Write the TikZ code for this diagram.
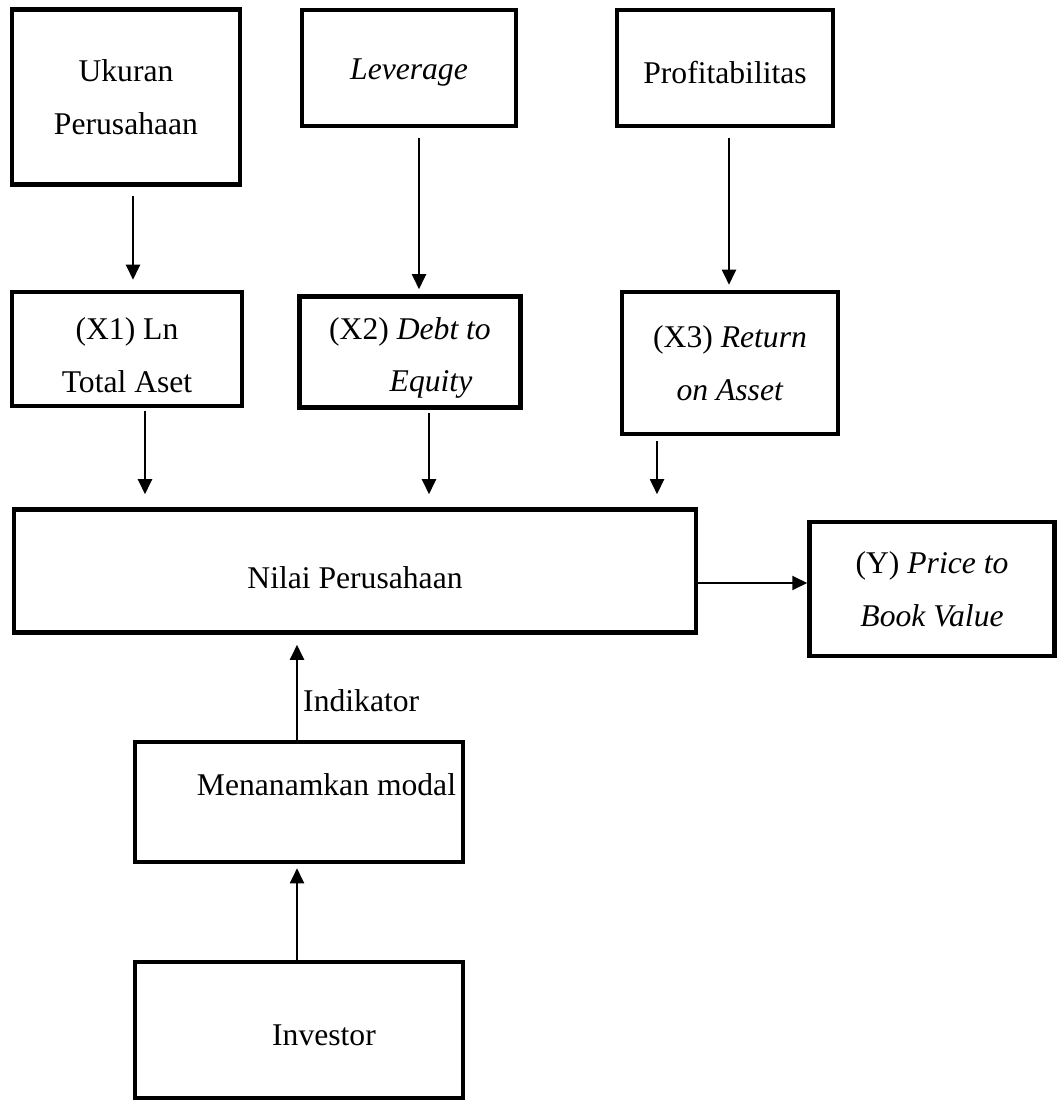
\documentclass[tikz,border=0pt]{standalone}
\usepackage{fontspec}
\setmainfont{Liberation Serif}
\usetikzlibrary{arrows.meta}

% move a line of text up or down without changing its box
\newcommand\lowtext[2]{\raisebox{-#1}[\height][\depth]{#2}}

\begin{document}
\begin{tikzpicture}[x=0.02cm, y=-0.02cm,
  box/.style={draw, line width=2.6pt, align=center, inner sep=0pt,
    font=\fontsize{18}{30}\selectfont},
  arr/.style={-{Triangle[length=0.3cm,width=0.28cm]}, line width=1.1pt}]

\useasboundingbox (0,0) rectangle (1057,1104);

% Top row
\node[box, minimum width=4.56cm, minimum height=3.5cm] (ukuran) at (126,97)
  {Ukuran\\Perusahaan};
\node[box, minimum width=4.28cm, minimum height=2.32cm] (lev) at (409,68)
  {\lowtext{0.1cm}{\textit{Leverage}}};
\node[box, minimum width=4.32cm, minimum height=2.32cm] (prof) at (725,68)
  {\lowtext{0.1cm}{Profitabilitas}};

% Indicators
\node[box, minimum width=4.6cm, minimum height=2.28cm] (x1) at (127,349)
  {\lowtext{0.12cm}{(X1) Ln}\\\lowtext{0.12cm}{Total Aset}};
\node[box, minimum width=4.42cm, minimum height=2.22cm] (x2) at (410,352)
  {\lowtext{0.12cm}{(X2) \textit{Debt to}}\\\hspace*{0.84cm}\lowtext{0.12cm}{\textit{Equity}}};
\node[box, minimum width=4.32cm, minimum height=2.84cm] (x3) at (730,363)
  {(X3) \textit{Return}\\\textit{on Asset}};

% Firm value
\node[box, minimum width=13.64cm, minimum height=2.46cm] (nilai) at (355,571)
  {\lowtext{0.14cm}{Nilai Perusahaan}};
\node[box, minimum width=4.9cm, minimum height=2.68cm] (pbv) at (932,589)
  {(Y) \textit{Price to}\\\textit{Book Value}};

% Bottom
\node[box, minimum width=6.56cm, minimum height=2.4cm] (modal) at (299,802)
  {\hspace*{1.1cm}\lowtext{-0.34cm}{Menanamkan modal}};
\node[box, minimum width=6.56cm, minimum height=2.72cm] (inv) at (299,1030)
  {\hspace*{1cm}\lowtext{0.1cm}{Investor}};

% Arrows down
\draw[arr, shorten <=0.18cm, shorten >=0.2cm] ([xshift=0.14cm]ukuran.south) -- ([xshift=0.14cm]ukuran.south |- x1.north);
\draw[arr, shorten <=0.2cm, shorten >=0.1cm] ([xshift=0.2cm]lev.south) -- ([xshift=0.2cm]lev.south |- x2.north);
\draw[arr, shorten <=0.2cm, shorten >=0.1cm] ([xshift=0.08cm]prof.south) -- ([xshift=0.08cm]prof.south |- x3.north);
\draw[arr, shorten <=0.06cm, shorten >=0.26cm] ([xshift=0.36cm]x1.south) -- ([xshift=0.36cm]x1.south |- nilai.north);
\draw[arr, shorten <=0.06cm, shorten >=0.26cm] ([xshift=0.38cm]x2.south) -- ([xshift=0.38cm]x2.south |- nilai.north);
\draw[arr, shorten <=0.1cm, shorten >=0.26cm] ([xshift=-1.46cm]x3.south) -- ([xshift=-1.46cm]x3.south |- nilai.north);

% Arrow right
\draw[arr] ([yshift=-0.24cm]nilai.east) -- ([yshift=-0.24cm]nilai.east -| pbv.west);

% Arrows up
\draw[arr, shorten >=0.2cm] ([xshift=-0.04cm]modal.north) -- ([xshift=-0.04cm]modal.north |- nilai.south)
  node[pos=0.37, anchor=west, inner sep=3pt, font=\fontsize{18}{30}\selectfont] {Indikator};
\draw[arr, shorten >=0.08cm] ([xshift=-0.04cm]inv.north) -- ([xshift=-0.04cm]inv.north |- modal.south);

\end{tikzpicture}
\end{document}
